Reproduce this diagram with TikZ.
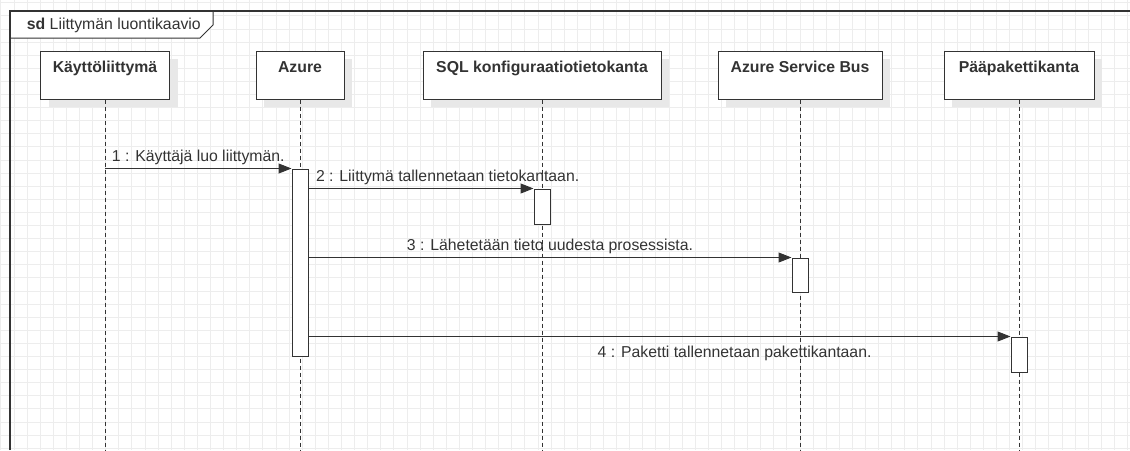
\documentclass[tikz,border=0pt]{standalone}
\usepackage{fontspec}
\setmainfont{Liberation Sans}
\usetikzlibrary{arrows.meta,positioning,shadows}
\definecolor{ink}{HTML}{333333}
\definecolor{gridc}{HTML}{EDEDED}
\definecolor{shade}{HTML}{E8E8E8}

\begin{document}
\begin{tikzpicture}[x=1pt,y=-1pt,node distance=195pt,on grid,
    font=\fontsize{15.8}{18}\selectfont,text=ink,
    head/.style={draw=ink,fill=white,line width=1pt,inner sep=0pt,
      text height=21pt,text depth=27pt,font=\fontsize{15.8}{18}\selectfont\bfseries,
      drop shadow={shadow xshift=8pt,shadow yshift=-8pt,fill=shade,opacity=1}},
    act/.style={draw=ink,fill=white,line width=1pt,minimum width=16pt,inner sep=0pt},
    life/.style={draw=ink,line width=1pt,dash pattern=on 4pt off 3pt},
    msg/.style={ink,line width=1pt,-{Triangle[length=13pt,width=10pt]}},
    gridline/.style={draw=gridc,line width=1pt}]
  \useasboundingbox (0,0) rectangle (1130,450);
  % background grid
  \foreach \i in {0,...,86} \draw[gridline] (0.9+13.1*\i,0) -- (0.9+13.1*\i,450);
  \foreach \j in {0,...,34} \draw[gridline] (0,2.8+13.1*\j) -- (1130,2.8+13.1*\j);
  % frame and tab
  \draw[ink,line width=1.3pt] (10,450) -- (10,11) -- (1130,11);
  \fill[white] (11,12) -- (213,12) -- (213,25) -- (200,38) -- (11,38) -- cycle;
  \draw[ink,line width=1pt] (10,38) -- (200,38) -- (213,25) -- (213,11);
  \node[anchor=west,inner sep=0pt] (title) at (26.7,25) {\textbf{sd} Liittymän luontikaavio};
  % lifeline heads
  \node[head,minimum width=129pt] (ui) at (105,75) {Käyttöliittymä};
  \node[head,minimum width=88pt,right=of ui] (az) {Azure};
  \node[head,minimum width=238pt,right=242pt of az] (sql) {SQL konfiguraatiotietokanta};
  \node[head,minimum width=164pt,right=258pt of sql] (sb) {Azure Service Bus};
  \node[head,minimum width=150pt,right=219pt of sb] (pk) {Pääpakettikanta};
  \coordinate (end) at (0,450);
  \foreach \n in {ui,az,sql,sb,pk} \draw[life] (\n) -- (\n |- end);
  % activations
  \node[act,minimum height=187pt,below=187.5pt of az] (azA) {};
  \node[act,minimum height=35pt,below=131.5pt of sql] (sqlA) {};
  \node[act,minimum height=34pt,below=200pt of sb] (sbA) {};
  \node[act,minimum height=35pt,below=279.5pt of pk] (pkA) {};
  % messages
  \path[msg]
    (ui |- azA.north) edge node[above] {1 : Käyttäjä luo liittymän.} (azA.north west)
    (azA.east |- sqlA.north) edge node[pos=0,anchor=south west,xshift=3.7pt] {2 : Liittymä tallennetaan tietokantaan.} (sqlA.north west)
    (azA.east |- sbA.north) edge node[above] {3 : Lähetetään tieto uudesta prosessista.} (sbA.north west)
    (azA.east |- pkA.north) edge node[below=6pt,pos=.607] {4 : Paketti tallennetaan pakettikantaan.} (pkA.north west);
\end{tikzpicture}
\end{document}
